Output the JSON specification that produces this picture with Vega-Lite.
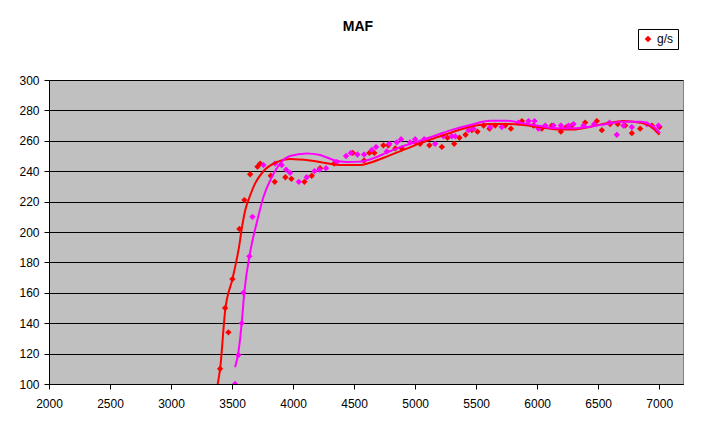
{
  "$schema": "https://vega.github.io/schema/vega-lite/v6.json",
  "width": 634,
  "height": 304,
  "autosize": {"type": "none"},
  "padding": {"left": 49, "top": 80, "right": 33, "bottom": 47},
  "background": "white",
  "title": {
    "text": "MAF",
    "font": "Liberation Sans",
    "fontSize": 14,
    "fontWeight": "bold",
    "color": "black",
    "anchor": "middle",
    "frame": "group",
    "dx": -8,
    "offset": -5,
    "baseline": "top"
  },
  "config": {
    "view": {"fill": "#C0C0C0", "stroke": "#808080", "strokeWidth": 1},
    "axis": {
      "labelFont": "Liberation Sans",
      "labelFontSize": 12,
      "labelColor": "black",
      "domainColor": "black",
      "tickColor": "black",
      "tickSize": 5,
      "title": null
    },
    "legend": {
      "labelFont": "Liberation Sans",
      "labelFontSize": 12,
      "labelColor": "black"
    }
  },
  "datasets": {
    "pts": [
      {"rpm": 3402, "maf": 110, "s": "g/s"},
      {"rpm": 3443, "maf": 150, "s": "g/s"},
      {"rpm": 3470, "maf": 134, "s": "g/s"},
      {"rpm": 3503, "maf": 169, "s": "g/s"},
      {"rpm": 3560, "maf": 202, "s": "g/s"},
      {"rpm": 3601, "maf": 221, "s": "g/s"},
      {"rpm": 3648, "maf": 238, "s": "g/s"},
      {"rpm": 3708, "maf": 243, "s": "g/s"},
      {"rpm": 3730, "maf": 245, "s": "g/s"},
      {"rpm": 3817, "maf": 237, "s": "g/s"},
      {"rpm": 3850, "maf": 233, "s": "g/s"},
      {"rpm": 3937, "maf": 236, "s": "g/s"},
      {"rpm": 3986, "maf": 235, "s": "g/s"},
      {"rpm": 4093, "maf": 233, "s": "g/s"},
      {"rpm": 4153, "maf": 237, "s": "g/s"},
      {"rpm": 4221, "maf": 242, "s": "g/s"},
      {"rpm": 4336, "maf": 245, "s": "g/s"},
      {"rpm": 4489, "maf": 252, "s": "g/s"},
      {"rpm": 4582, "maf": 247, "s": "g/s"},
      {"rpm": 4625, "maf": 252, "s": "g/s"},
      {"rpm": 4666, "maf": 252, "s": "g/s"},
      {"rpm": 4740, "maf": 257, "s": "g/s"},
      {"rpm": 4781, "maf": 257, "s": "g/s"},
      {"rpm": 4838, "maf": 255, "s": "g/s"},
      {"rpm": 4891, "maf": 255, "s": "g/s"},
      {"rpm": 5000, "maf": 259, "s": "g/s"},
      {"rpm": 5041, "maf": 258, "s": "g/s"},
      {"rpm": 5117, "maf": 257, "s": "g/s"},
      {"rpm": 5219, "maf": 256, "s": "g/s"},
      {"rpm": 5265, "maf": 262, "s": "g/s"},
      {"rpm": 5320, "maf": 258, "s": "g/s"},
      {"rpm": 5363, "maf": 262, "s": "g/s"},
      {"rpm": 5413, "maf": 264, "s": "g/s"},
      {"rpm": 5465, "maf": 267, "s": "g/s"},
      {"rpm": 5511, "maf": 266, "s": "g/s"},
      {"rpm": 5561, "maf": 270, "s": "g/s"},
      {"rpm": 5610, "maf": 268, "s": "g/s"},
      {"rpm": 5656, "maf": 270, "s": "g/s"},
      {"rpm": 5738, "maf": 270, "s": "g/s"},
      {"rpm": 5785, "maf": 268, "s": "g/s"},
      {"rpm": 5875, "maf": 273, "s": "g/s"},
      {"rpm": 5970, "maf": 270, "s": "g/s"},
      {"rpm": 6038, "maf": 268, "s": "g/s"},
      {"rpm": 6120, "maf": 270, "s": "g/s"},
      {"rpm": 6194, "maf": 266, "s": "g/s"},
      {"rpm": 6238, "maf": 269, "s": "g/s"},
      {"rpm": 6284, "maf": 270, "s": "g/s"},
      {"rpm": 6393, "maf": 272, "s": "g/s"},
      {"rpm": 6489, "maf": 273, "s": "g/s"},
      {"rpm": 6530, "maf": 267, "s": "g/s"},
      {"rpm": 6598, "maf": 271, "s": "g/s"},
      {"rpm": 6660, "maf": 271, "s": "g/s"},
      {"rpm": 6721, "maf": 270, "s": "g/s"},
      {"rpm": 6776, "maf": 265, "s": "g/s"},
      {"rpm": 6844, "maf": 268, "s": "g/s"},
      {"rpm": 6940, "maf": 270, "s": "g/s"},
      {"rpm": 7002, "maf": 269, "s": "g/s"},
      {"rpm": 3525, "maf": 100, "s": "g/s 2"},
      {"rpm": 3552, "maf": 119, "s": "g/s 2"},
      {"rpm": 3579, "maf": 140, "s": "g/s 2"},
      {"rpm": 3593, "maf": 160, "s": "g/s 2"},
      {"rpm": 3642, "maf": 184, "s": "g/s 2"},
      {"rpm": 3667, "maf": 210, "s": "g/s 2"},
      {"rpm": 3757, "maf": 244, "s": "g/s 2"},
      {"rpm": 3852, "maf": 245, "s": "g/s 2"},
      {"rpm": 3907, "maf": 244, "s": "g/s 2"},
      {"rpm": 3943, "maf": 241, "s": "g/s 2"},
      {"rpm": 3975, "maf": 239, "s": "g/s 2"},
      {"rpm": 4047, "maf": 233, "s": "g/s 2"},
      {"rpm": 4112, "maf": 236, "s": "g/s 2"},
      {"rpm": 4175, "maf": 240, "s": "g/s 2"},
      {"rpm": 4216, "maf": 241, "s": "g/s 2"},
      {"rpm": 4270, "maf": 242, "s": "g/s 2"},
      {"rpm": 4358, "maf": 246, "s": "g/s 2"},
      {"rpm": 4434, "maf": 250, "s": "g/s 2"},
      {"rpm": 4473, "maf": 252, "s": "g/s 2"},
      {"rpm": 4527, "maf": 251, "s": "g/s 2"},
      {"rpm": 4582, "maf": 251, "s": "g/s 2"},
      {"rpm": 4645, "maf": 254, "s": "g/s 2"},
      {"rpm": 4680, "maf": 256, "s": "g/s 2"},
      {"rpm": 4768, "maf": 253, "s": "g/s 2"},
      {"rpm": 4789, "maf": 258, "s": "g/s 2"},
      {"rpm": 4850, "maf": 259, "s": "g/s 2"},
      {"rpm": 4885, "maf": 261, "s": "g/s 2"},
      {"rpm": 4959, "maf": 259, "s": "g/s 2"},
      {"rpm": 5000, "maf": 261, "s": "g/s 2"},
      {"rpm": 5074, "maf": 261, "s": "g/s 2"},
      {"rpm": 5164, "maf": 258, "s": "g/s 2"},
      {"rpm": 5232, "maf": 263, "s": "g/s 2"},
      {"rpm": 5300, "maf": 263, "s": "g/s 2"},
      {"rpm": 5328, "maf": 263, "s": "g/s 2"},
      {"rpm": 5437, "maf": 267, "s": "g/s 2"},
      {"rpm": 5478, "maf": 268, "s": "g/s 2"},
      {"rpm": 5615, "maf": 269, "s": "g/s 2"},
      {"rpm": 5710, "maf": 269, "s": "g/s 2"},
      {"rpm": 5847, "maf": 272, "s": "g/s 2"},
      {"rpm": 5929, "maf": 273, "s": "g/s 2"},
      {"rpm": 5978, "maf": 273, "s": "g/s 2"},
      {"rpm": 6011, "maf": 268, "s": "g/s 2"},
      {"rpm": 6066, "maf": 270, "s": "g/s 2"},
      {"rpm": 6134, "maf": 270, "s": "g/s 2"},
      {"rpm": 6194, "maf": 270, "s": "g/s 2"},
      {"rpm": 6257, "maf": 270, "s": "g/s 2"},
      {"rpm": 6298, "maf": 271, "s": "g/s 2"},
      {"rpm": 6380, "maf": 270, "s": "g/s 2"},
      {"rpm": 6467, "maf": 271, "s": "g/s 2"},
      {"rpm": 6593, "maf": 272, "s": "g/s 2"},
      {"rpm": 6653, "maf": 264, "s": "g/s 2"},
      {"rpm": 6707, "maf": 270, "s": "g/s 2"},
      {"rpm": 6776, "maf": 269, "s": "g/s 2"},
      {"rpm": 6899, "maf": 271, "s": "g/s 2"},
      {"rpm": 6994, "maf": 270, "s": "g/s 2"}
    ],
    "trend": [
      {"rpm": 3380, "maf": 99, "s": "g/s"},
      {"rpm": 3402, "maf": 110, "s": "g/s"},
      {"rpm": 3443, "maf": 148, "s": "g/s"},
      {"rpm": 3503, "maf": 169, "s": "g/s"},
      {"rpm": 3538, "maf": 182, "s": "g/s"},
      {"rpm": 3557, "maf": 190, "s": "g/s"},
      {"rpm": 3579, "maf": 202, "s": "g/s"},
      {"rpm": 3607, "maf": 214, "s": "g/s"},
      {"rpm": 3648, "maf": 224, "s": "g/s"},
      {"rpm": 3689, "maf": 232, "s": "g/s"},
      {"rpm": 3757, "maf": 240, "s": "g/s"},
      {"rpm": 3866, "maf": 246, "s": "g/s"},
      {"rpm": 3975, "maf": 248, "s": "g/s"},
      {"rpm": 4139, "maf": 247, "s": "g/s"},
      {"rpm": 4276, "maf": 245.2, "s": "g/s"},
      {"rpm": 4385, "maf": 244, "s": "g/s"},
      {"rpm": 4549, "maf": 244, "s": "g/s"},
      {"rpm": 4631, "maf": 245.6, "s": "g/s"},
      {"rpm": 4768, "maf": 249.6, "s": "g/s"},
      {"rpm": 4904, "maf": 254, "s": "g/s"},
      {"rpm": 5041, "maf": 258.3, "s": "g/s"},
      {"rpm": 5178, "maf": 262.3, "s": "g/s"},
      {"rpm": 5314, "maf": 266, "s": "g/s"},
      {"rpm": 5451, "maf": 269.3, "s": "g/s"},
      {"rpm": 5615, "maf": 271, "s": "g/s"},
      {"rpm": 5752, "maf": 271, "s": "g/s"},
      {"rpm": 5888, "maf": 270.4, "s": "g/s"},
      {"rpm": 6025, "maf": 268.9, "s": "g/s"},
      {"rpm": 6161, "maf": 267.5, "s": "g/s"},
      {"rpm": 6298, "maf": 267.5, "s": "g/s"},
      {"rpm": 6434, "maf": 269.3, "s": "g/s"},
      {"rpm": 6571, "maf": 271.5, "s": "g/s"},
      {"rpm": 6707, "maf": 273, "s": "g/s"},
      {"rpm": 6844, "maf": 271.9, "s": "g/s"},
      {"rpm": 6926, "maf": 269.7, "s": "g/s"},
      {"rpm": 7002, "maf": 264, "s": "g/s"},
      {"rpm": 3525, "maf": 111, "s": "g/s 2"},
      {"rpm": 3552, "maf": 121, "s": "g/s 2"},
      {"rpm": 3579, "maf": 140, "s": "g/s 2"},
      {"rpm": 3600, "maf": 160, "s": "g/s 2"},
      {"rpm": 3642, "maf": 184, "s": "g/s 2"},
      {"rpm": 3661, "maf": 192, "s": "g/s 2"},
      {"rpm": 3702, "maf": 206, "s": "g/s 2"},
      {"rpm": 3757, "maf": 223, "s": "g/s 2"},
      {"rpm": 3825, "maf": 236, "s": "g/s 2"},
      {"rpm": 3893, "maf": 245, "s": "g/s 2"},
      {"rpm": 3975, "maf": 250, "s": "g/s 2"},
      {"rpm": 4112, "maf": 251.7, "s": "g/s 2"},
      {"rpm": 4221, "maf": 250.7, "s": "g/s 2"},
      {"rpm": 4330, "maf": 247.4, "s": "g/s 2"},
      {"rpm": 4440, "maf": 246.1, "s": "g/s 2"},
      {"rpm": 4549, "maf": 246.3, "s": "g/s 2"},
      {"rpm": 4658, "maf": 248.5, "s": "g/s 2"},
      {"rpm": 4768, "maf": 252.2, "s": "g/s 2"},
      {"rpm": 4904, "maf": 256.6, "s": "g/s 2"},
      {"rpm": 5041, "maf": 260, "s": "g/s 2"},
      {"rpm": 5178, "maf": 263.8, "s": "g/s 2"},
      {"rpm": 5314, "maf": 267.5, "s": "g/s 2"},
      {"rpm": 5451, "maf": 270.4, "s": "g/s 2"},
      {"rpm": 5615, "maf": 273.2, "s": "g/s 2"},
      {"rpm": 5752, "maf": 273.2, "s": "g/s 2"},
      {"rpm": 5888, "maf": 271.5, "s": "g/s 2"},
      {"rpm": 6025, "maf": 269.7, "s": "g/s 2"},
      {"rpm": 6161, "maf": 268.2, "s": "g/s 2"},
      {"rpm": 6298, "maf": 268.2, "s": "g/s 2"},
      {"rpm": 6434, "maf": 269.3, "s": "g/s 2"},
      {"rpm": 6571, "maf": 271.1, "s": "g/s 2"},
      {"rpm": 6707, "maf": 272.6, "s": "g/s 2"},
      {"rpm": 6844, "maf": 272.6, "s": "g/s 2"},
      {"rpm": 6953, "maf": 269.3, "s": "g/s 2"},
      {"rpm": 7008, "maf": 265, "s": "g/s 2"}
    ]
  },
  "encoding": {
    "x": {
      "field": "rpm",
      "type": "quantitative",
      "scale": {"domain": [2000, 7195], "nice": false, "zero": false},
      "axis": {"values": [2000, 2500, 3000, 3500, 4000, 4500, 5000, 5500, 6000, 6500, 7000], "grid": false, "labelPadding": 9, "labelFlush": false, "format": "d"}
    },
    "y": {
      "field": "maf",
      "type": "quantitative",
      "scale": {"domain": [100, 300], "nice": false, "zero": false},
      "axis": {"values": [100, 120, 140, 160, 180, 200, 220, 240, 260, 280, 300], "grid": true, "gridColor": "black", "gridOpacity": 1, "gridWidth": 1, "labelPadding": 5, "labelFlush": false, "format": "d"}
    },
    "color": {
      "field": "s",
      "type": "nominal",
      "scale": {"domain": ["g/s", "g/s 2"], "range": ["#FF0000", "#FF00FF"]},
      "legend": {
        "values": ["g/s"],
        "title": null,
        "orient": "none",
        "legendX": 589,
        "legendY": -51,
        "strokeColor": "black",
        "fillColor": "white",
        "padding": 4,
        "symbolType": "diamond",
        "symbolSize": 45,
        "symbolStrokeWidth": 0,
        "labelOffset": 3
      }
    }
  },
  "layer": [
    {
      "data": {"name": "pts"},
      "mark": {"type": "point", "shape": "diamond", "filled": true, "opacity": 1, "size": 40, "clip": true}
    },
    {
      "data": {"name": "trend"},
      "mark": {"type": "line", "strokeWidth": 2, "interpolate": "monotone", "clip": true}
    }
  ]
}
